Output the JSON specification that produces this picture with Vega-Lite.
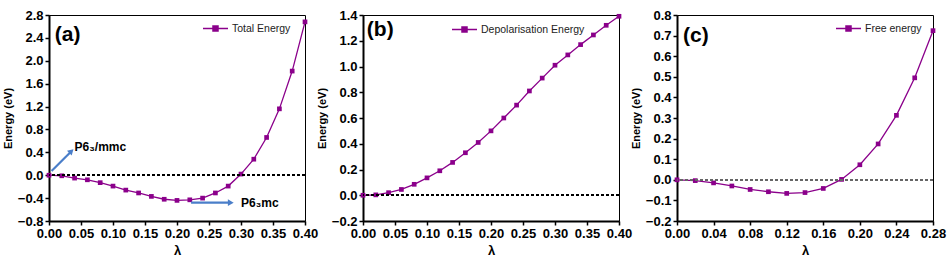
{
  "$schema": "https://vega.github.io/schema/vega-lite/v6.json",
  "background": "white",
  "padding": {"left": 1, "top": 8, "right": 10, "bottom": 5},
  "bounds": "flush",
  "spacing": 58,
  "config": {
    "view": {"stroke": "black", "strokeWidth": 1},
    "axis": {
      "grid": false, "domainColor": "black", "domainWidth": 2, "tickColor": "black", "tickWidth": 1.5, "tickSize": 4,
      "labelFont": "Liberation Sans", "labelFontWeight": "bold", "labelFontSize": 13, "labelColor": "black",
      "labelOverlap": false, "labelFlush": false, "labelPadding": 2, "tickCount": 20,
      "titleFont": "Liberation Sans", "titleFontWeight": "bold", "titleColor": "black"
    },
    "axisX": {"titleFontSize": 13, "titlePadding": 4},
    "axisY": {"titleFontSize": 11, "titlePadding": 4},
    "legend": {
      "orient": "none", "padding": 0, "title": null,
      "labelFont": "Liberation Sans", "labelFontSize": 10.5, "labelColor": "#222", "labelOffset": 3,
      "symbolType": "M-1,0H1M-0.2,-0.2H0.2V0.2H-0.2Z", "symbolSize": 625, "symbolStrokeWidth": 1.5,
      "symbolStrokeColor": "#8B008B", "symbolFillColor": "#8B008B"
    }
  },
  "datasets": {
    "a": [
      {"x": 0.00, "y": 0.00, "s": "Total Energy"},
      {"x": 0.02, "y": -0.01, "s": "Total Energy"},
      {"x": 0.04, "y": -0.05, "s": "Total Energy"},
      {"x": 0.06, "y": -0.08, "s": "Total Energy"},
      {"x": 0.08, "y": -0.13, "s": "Total Energy"},
      {"x": 0.10, "y": -0.19, "s": "Total Energy"},
      {"x": 0.12, "y": -0.26, "s": "Total Energy"},
      {"x": 0.14, "y": -0.31, "s": "Total Energy"},
      {"x": 0.16, "y": -0.37, "s": "Total Energy"},
      {"x": 0.18, "y": -0.42, "s": "Total Energy"},
      {"x": 0.20, "y": -0.44, "s": "Total Energy"},
      {"x": 0.22, "y": -0.43, "s": "Total Energy"},
      {"x": 0.24, "y": -0.40, "s": "Total Energy"},
      {"x": 0.26, "y": -0.31, "s": "Total Energy"},
      {"x": 0.28, "y": -0.19, "s": "Total Energy"},
      {"x": 0.30, "y": 0.02, "s": "Total Energy"},
      {"x": 0.32, "y": 0.28, "s": "Total Energy"},
      {"x": 0.34, "y": 0.66, "s": "Total Energy"},
      {"x": 0.36, "y": 1.16, "s": "Total Energy"},
      {"x": 0.38, "y": 1.82, "s": "Total Energy"},
      {"x": 0.40, "y": 2.68, "s": "Total Energy"}
    ],
    "b": [
      {"x": 0.00, "y": 0.000, "s": "Depolarisation Energy"},
      {"x": 0.02, "y": 0.003, "s": "Depolarisation Energy"},
      {"x": 0.04, "y": 0.020, "s": "Depolarisation Energy"},
      {"x": 0.06, "y": 0.045, "s": "Depolarisation Energy"},
      {"x": 0.08, "y": 0.085, "s": "Depolarisation Energy"},
      {"x": 0.10, "y": 0.135, "s": "Depolarisation Energy"},
      {"x": 0.12, "y": 0.19, "s": "Depolarisation Energy"},
      {"x": 0.14, "y": 0.255, "s": "Depolarisation Energy"},
      {"x": 0.16, "y": 0.33, "s": "Depolarisation Energy"},
      {"x": 0.18, "y": 0.41, "s": "Depolarisation Energy"},
      {"x": 0.20, "y": 0.50, "s": "Depolarisation Energy"},
      {"x": 0.22, "y": 0.60, "s": "Depolarisation Energy"},
      {"x": 0.24, "y": 0.70, "s": "Depolarisation Energy"},
      {"x": 0.26, "y": 0.81, "s": "Depolarisation Energy"},
      {"x": 0.28, "y": 0.91, "s": "Depolarisation Energy"},
      {"x": 0.30, "y": 1.01, "s": "Depolarisation Energy"},
      {"x": 0.32, "y": 1.09, "s": "Depolarisation Energy"},
      {"x": 0.34, "y": 1.17, "s": "Depolarisation Energy"},
      {"x": 0.36, "y": 1.245, "s": "Depolarisation Energy"},
      {"x": 0.38, "y": 1.32, "s": "Depolarisation Energy"},
      {"x": 0.40, "y": 1.39, "s": "Depolarisation Energy"}
    ],
    "c": [
      {"x": 0.00, "y": 0.000, "s": "Free energy"},
      {"x": 0.02, "y": -0.004, "s": "Free energy"},
      {"x": 0.04, "y": -0.015, "s": "Free energy"},
      {"x": 0.06, "y": -0.030, "s": "Free energy"},
      {"x": 0.08, "y": -0.047, "s": "Free energy"},
      {"x": 0.10, "y": -0.058, "s": "Free energy"},
      {"x": 0.12, "y": -0.066, "s": "Free energy"},
      {"x": 0.14, "y": -0.062, "s": "Free energy"},
      {"x": 0.16, "y": -0.042, "s": "Free energy"},
      {"x": 0.18, "y": 0.002, "s": "Free energy"},
      {"x": 0.20, "y": 0.073, "s": "Free energy"},
      {"x": 0.22, "y": 0.174, "s": "Free energy"},
      {"x": 0.24, "y": 0.313, "s": "Free energy"},
      {"x": 0.26, "y": 0.495, "s": "Free energy"},
      {"x": 0.28, "y": 0.724, "s": "Free energy"}
    ],
    "arrows": [
      {"x": 0.004, "y": 0.075, "x2": 0.035, "y2": 0.42},
      {"x": 0.222, "y": -0.48, "x2": 0.284, "y2": -0.48}
    ],
    "arrowhead1": [{"x": 0.035, "y": 0.42}],
    "arrowhead2": [{"x": 0.284, "y": -0.48}],
    "labelsA": [
      {"x": 0.040, "y": 0.49, "t": "P6₃/mmc"},
      {"x": 0.300, "y": -0.48, "t": "P6₃mc"}
    ],
    "panelA": [{"x": 0.009, "y": 2.45, "t": "(a)"}],
    "panelB": [{"x": 0.006, "y": 1.28, "t": "(b)"}],
    "panelC": [{"x": 0.0066, "y": 0.70, "t": "(c)"}]
  },
  "resolve": {"scale": {"color": "independent", "x": "independent", "y": "independent"}, "legend": {"color": "independent"}},
  "hconcat": [
    {
      "width": 256, "height": 206,
      "layer": [
        {
          "data": {"name": "a"},
          "mark": {"type": "line", "strokeWidth": 1.3, "point": {"shape": "square", "size": 22, "filled": true}},
          "encoding": {
            "x": {"field": "x", "type": "quantitative", "title": "λ", "scale": {"domain": [0, 0.4], "nice": false}, "axis": {"values": [0, 0.05, 0.1, 0.15, 0.2, 0.25, 0.3, 0.35, 0.4], "format": ".2f", "labelOverlap": false, "tickCount": 20}},
            "y": {"field": "y", "type": "quantitative", "title": "Energy (eV)", "scale": {"domain": [-0.8, 2.8], "nice": false, "zero": false}, "axis": {"values": [-0.8, -0.4, 0, 0.4, 0.8, 1.2, 1.6, 2.0, 2.4, 2.8], "format": ".1f", "labelOverlap": false, "tickCount": 20}},
            "color": {"field": "s", "type": "nominal", "scale": {"range": ["#8B008B"]}, "legend": {"legendX": 153, "legendY": 0}}
          }
        },
        {"data": {"name": "a"}, "mark": {"type": "rule", "strokeDash": [3, 2], "color": "black", "strokeWidth": 1}, "encoding": {"y": {"datum": 0}}},
        {
          "data": {"name": "arrows"},
          "mark": {"type": "rule", "color": "#4A7EC9", "strokeWidth": 2.2},
          "encoding": {"x": {"field": "x", "type": "quantitative"}, "y": {"field": "y", "type": "quantitative"}, "x2": {"field": "x2"}, "y2": {"field": "y2"}}
        },
        {
          "data": {"name": "arrowhead1"},
          "mark": {"type": "point", "shape": "triangle-right", "filled": true, "color": "#4A7EC9", "size": 45, "angle": -45, "opacity": 1},
          "encoding": {"x": {"field": "x", "type": "quantitative"}, "y": {"field": "y", "type": "quantitative"}}
        },
        {
          "data": {"name": "arrowhead2"},
          "mark": {"type": "point", "shape": "triangle-right", "filled": true, "color": "#4A7EC9", "size": 45, "opacity": 1},
          "encoding": {"x": {"field": "x", "type": "quantitative"}, "y": {"field": "y", "type": "quantitative"}}
        },
        {
          "data": {"name": "labelsA"},
          "mark": {"type": "text", "align": "left", "baseline": "middle", "font": "Liberation Sans", "fontWeight": "bold", "fontSize": 12, "color": "black"},
          "encoding": {"x": {"field": "x", "type": "quantitative"}, "y": {"field": "y", "type": "quantitative"}, "text": {"field": "t"}}
        },
        {
          "data": {"name": "panelA"},
          "mark": {"type": "text", "align": "left", "baseline": "middle", "font": "Liberation Sans", "fontWeight": "bold", "fontSize": 21, "color": "black"},
          "encoding": {"x": {"field": "x", "type": "quantitative"}, "y": {"field": "y", "type": "quantitative"}, "text": {"field": "t"}}
        }
      ]
    },
    {
      "width": 256, "height": 206,
      "layer": [
        {
          "data": {"name": "b"},
          "mark": {"type": "line", "strokeWidth": 1.3, "point": {"shape": "square", "size": 22, "filled": true}},
          "encoding": {
            "x": {"field": "x", "type": "quantitative", "title": "λ", "scale": {"domain": [0, 0.4], "nice": false}, "axis": {"values": [0, 0.05, 0.1, 0.15, 0.2, 0.25, 0.3, 0.35, 0.4], "format": ".2f", "labelOverlap": false, "tickCount": 20}},
            "y": {"field": "y", "type": "quantitative", "title": "Energy (eV)", "scale": {"domain": [-0.2, 1.4], "nice": false, "zero": false}, "axis": {"values": [-0.2, 0, 0.2, 0.4, 0.6, 0.8, 1.0, 1.2, 1.4], "format": ".1f", "labelOverlap": false, "tickCount": 20}},
            "color": {"field": "s", "type": "nominal", "scale": {"range": ["#8B008B"]}, "legend": {"legendX": 88, "legendY": 1}}
          }
        },
        {"data": {"name": "b"}, "mark": {"type": "rule", "strokeDash": [3, 2], "color": "black", "strokeWidth": 1.3}, "encoding": {"y": {"datum": 0}}},
        {
          "data": {"name": "panelB"},
          "mark": {"type": "text", "align": "left", "baseline": "middle", "font": "Liberation Sans", "fontWeight": "bold", "fontSize": 21, "color": "black"},
          "encoding": {"x": {"field": "x", "type": "quantitative"}, "y": {"field": "y", "type": "quantitative"}, "text": {"field": "t"}}
        }
      ]
    },
    {
      "width": 256, "height": 206,
      "layer": [
        {
          "data": {"name": "c"},
          "mark": {"type": "line", "strokeWidth": 1.3, "point": {"shape": "square", "size": 22, "filled": true}},
          "encoding": {
            "x": {"field": "x", "type": "quantitative", "title": "λ", "scale": {"domain": [0, 0.28], "nice": false}, "axis": {"values": [0, 0.04, 0.08, 0.12, 0.16, 0.2, 0.24, 0.28], "format": ".2f", "labelOverlap": false, "tickCount": 20}},
            "y": {"field": "y", "type": "quantitative", "title": "Energy (eV)", "scale": {"domain": [-0.2, 0.8], "nice": false, "zero": false}, "axis": {"values": [-0.2, -0.1, 0, 0.1, 0.2, 0.3, 0.4, 0.5, 0.6, 0.7, 0.8], "format": ".1f", "labelOverlap": false, "tickCount": 20}},
            "color": {"field": "s", "type": "nominal", "scale": {"range": ["#8B008B"]}, "legend": {"legendX": 158, "legendY": 0}}
          }
        },
        {"data": {"name": "c"}, "mark": {"type": "rule", "strokeDash": [3, 2], "color": "#666", "strokeWidth": 1.3}, "encoding": {"y": {"datum": 0}}},
        {
          "data": {"name": "panelC"},
          "mark": {"type": "text", "align": "left", "baseline": "middle", "font": "Liberation Sans", "fontWeight": "bold", "fontSize": 21, "color": "black"},
          "encoding": {"x": {"field": "x", "type": "quantitative"}, "y": {"field": "y", "type": "quantitative"}, "text": {"field": "t"}}
        }
      ]
    }
  ]
}
